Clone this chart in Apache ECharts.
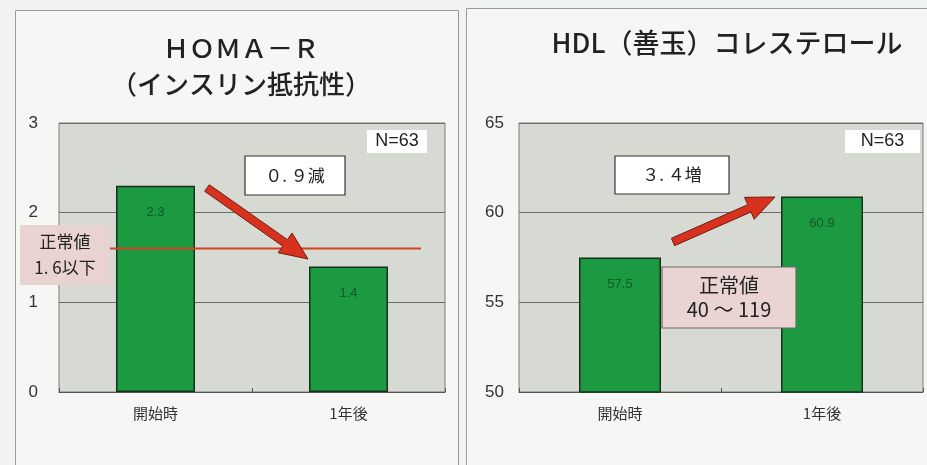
<!DOCTYPE html>
<html><head><meta charset="utf-8">
<script src="https://cdn.jsdelivr.net/npm/echarts@6/dist/echarts.min.js"></script>
<style>html,body{margin:0;padding:0;background:#f1f3f1;}#c{width:927px;height:465px;}</style>
</head><body><div id="c"></div>
<script>
const categories = ['開始時', '1年後'];
const homaValues = [2.3, 1.4];
const hdlValues = [57.5, 60.9];
const homaTicks = {min: 0, max: 3, interval: 1};
const hdlTicks = {min: 50, max: 65, interval: 5};
const homaNormalLimit = 1.6;
const titles = ['ＨＯＭＡ－Ｒ\n（インスリン抵抗性）', 'HDL（善玉）コレステロール'];
const changeLabels = ['０. ９減', '３. ４増'];
const normalLabels = ['正常値\n1. 6以下', '正常値\n40 ～ 119'];
const nLabel = 'N=63';

const JP = '"Noto Sans CJK JP", "Noto Sans", sans-serif';
const chart = echarts.init(document.getElementById('c'), null, {renderer: 'canvas'});

function xAxisCfg(gi) {
  return {
    type: 'category', gridIndex: gi, data: categories,
    axisLine: {show: true, lineStyle: {color: '#555', width: 1}},
    axisTick: {show: true, inside: true, length: 4, lineStyle: {color: '#555'}},
    axisLabel: {color: '#333', fontSize: 15, fontFamily: JP, margin: 14}
  };
}
function yAxisCfg(gi, t, margin) {
  return {
    type: 'value', gridIndex: gi, min: t.min, max: t.max, interval: t.interval,
    axisLine: {show: false}, axisTick: {show: false},
    axisLabel: {color: '#333', fontSize: 17, fontFamily: 'Liberation Sans, Arial, sans-serif', margin: margin},
    splitLine: {show: true, lineStyle: {color: '#6a6a6a', width: 1}}
  };
}
function barSeries(gi, data, bw) {
  return {
    type: 'bar', xAxisIndex: gi, yAxisIndex: gi, data: data, barWidth: bw,
    itemStyle: {color: '#1b9a42', borderColor: '#17301c', borderWidth: 1.5},
    label: {show: true, position: 'insideTop', distance: 20, color: '#115a26', fontSize: 13,
            fontFamily: 'Liberation Sans, Arial, sans-serif'},
    z: 3
  };
}

chart.setOption({
  backgroundColor: '#f1f3f1',
  animation: false,
  title: [
    {text: titles[0], left: 236, top: 25, textAlign: 'center',
     textStyle: {fontSize: 26, fontWeight: 500, color: '#222', fontFamily: JP, lineHeight: 36}},
    {text: titles[1], left: 722, top: 24, textAlign: 'center',
     textStyle: {fontSize: 27, fontWeight: 500, color: '#222', fontFamily: JP}}
  ],
  grid: [
    {left: 59, top: 123, width: 386, height: 269, show: true, backgroundColor: '#d6dad2', borderColor: '#7a7a7a', borderWidth: 1},
    {left: 519, top: 123, width: 404, height: 269, show: true, backgroundColor: '#d6dad2', borderColor: '#7a7a7a', borderWidth: 1}
  ],
  xAxis: [xAxisCfg(0), xAxisCfg(1)],
  yAxis: [yAxisCfg(0, homaTicks, 21), yAxisCfg(1, hdlTicks, 15)],
  series: [barSeries(0, homaValues, 79), barSeries(1, hdlValues, 82)]
});

function blockArrow(x1, y1, x2, y2, shaft, headW, headL) {
  const dx = x2 - x1, dy = y2 - y1, len = Math.hypot(dx, dy);
  const ux = dx / len, uy = dy / len, nx = -uy, ny = ux;
  const bx = x2 - ux * headL, by = y2 - uy * headL;
  const s = shaft / 2, h = headW / 2;
  return [
    [x1 + nx * s, y1 + ny * s], [bx + nx * s, by + ny * s], [bx + nx * h, by + ny * h],
    [x2, y2], [bx - nx * h, by - ny * h], [bx - nx * s, by - ny * s], [x1 - nx * s, y1 - ny * s]
  ];
}

const yLimit = chart.convertToPixel({yAxisIndex: 0}, homaNormalLimit);

function box(x, y, w, h, fill, stroke, text, fontSize, fontFamily, lh) {
  return [
    {type: 'rect', z: 50, shape: {x: x, y: y, width: w, height: h},
     style: {fill: fill, stroke: stroke || null, lineWidth: stroke ? 1.2 : 0}},
    {type: 'text', z: 51, x: x + w / 2, y: y + h / 2,
     style: {text: text, fill: '#222', fontSize: fontSize, fontFamily: fontFamily || JP,
             align: 'center', verticalAlign: 'middle', lineHeight: lh || fontSize * 1.2}}
  ];
}

chart.setOption({
  graphic: [
    {type: 'rect', z: -10, shape: {x: 15.5, y: 10.5, width: 443, height: 470},
     style: {fill: '#f6f7f5', stroke: '#9a9c9a', lineWidth: 1}, silent: true},
    {type: 'rect', z: -10, shape: {x: 466.5, y: 8.5, width: 480, height: 470},
     style: {fill: '#f6f7f5', stroke: '#9a9c9a', lineWidth: 1}, silent: true},
    {type: 'line', z: 40, shape: {x1: 110, y1: yLimit, x2: 421, y2: yLimit},
     style: {stroke: '#d6401e', lineWidth: 2}},
    {type: 'polygon', z: 45, shape: {points: blockArrow(207, 188, 308, 259, 8, 24, 28)},
     style: {fill: '#d8321f', stroke: '#6e1c12', lineWidth: 1}},
    {type: 'polygon', z: 45, shape: {points: blockArrow(673, 242, 775, 197, 8, 24, 28)},
     style: {fill: '#d8321f', stroke: '#6e1c12', lineWidth: 1}}
  ].concat(
    box(245, 156, 100, 39, '#ffffff', '#333', changeLabels[0], 17),
    box(615, 156, 114, 38, '#ffffff', '#333', changeLabels[1], 17),
    box(367, 130, 60, 23, '#ffffff', null, nLabel, 18, '"Liberation Sans Narrow", "Liberation Sans", sans-serif'),
    box(845, 130, 75, 23, '#ffffff', null, nLabel, 18, '"Liberation Sans Narrow", "Liberation Sans", sans-serif'),
    box(20, 225, 90, 60, '#e8d3d0', null, normalLabels[0], 17, JP, 26),
    box(662, 267, 134, 61, '#ead4d1', '#6a6a6a', normalLabels[1], 20, JP, 24)
  )
});
</script></body></html>
